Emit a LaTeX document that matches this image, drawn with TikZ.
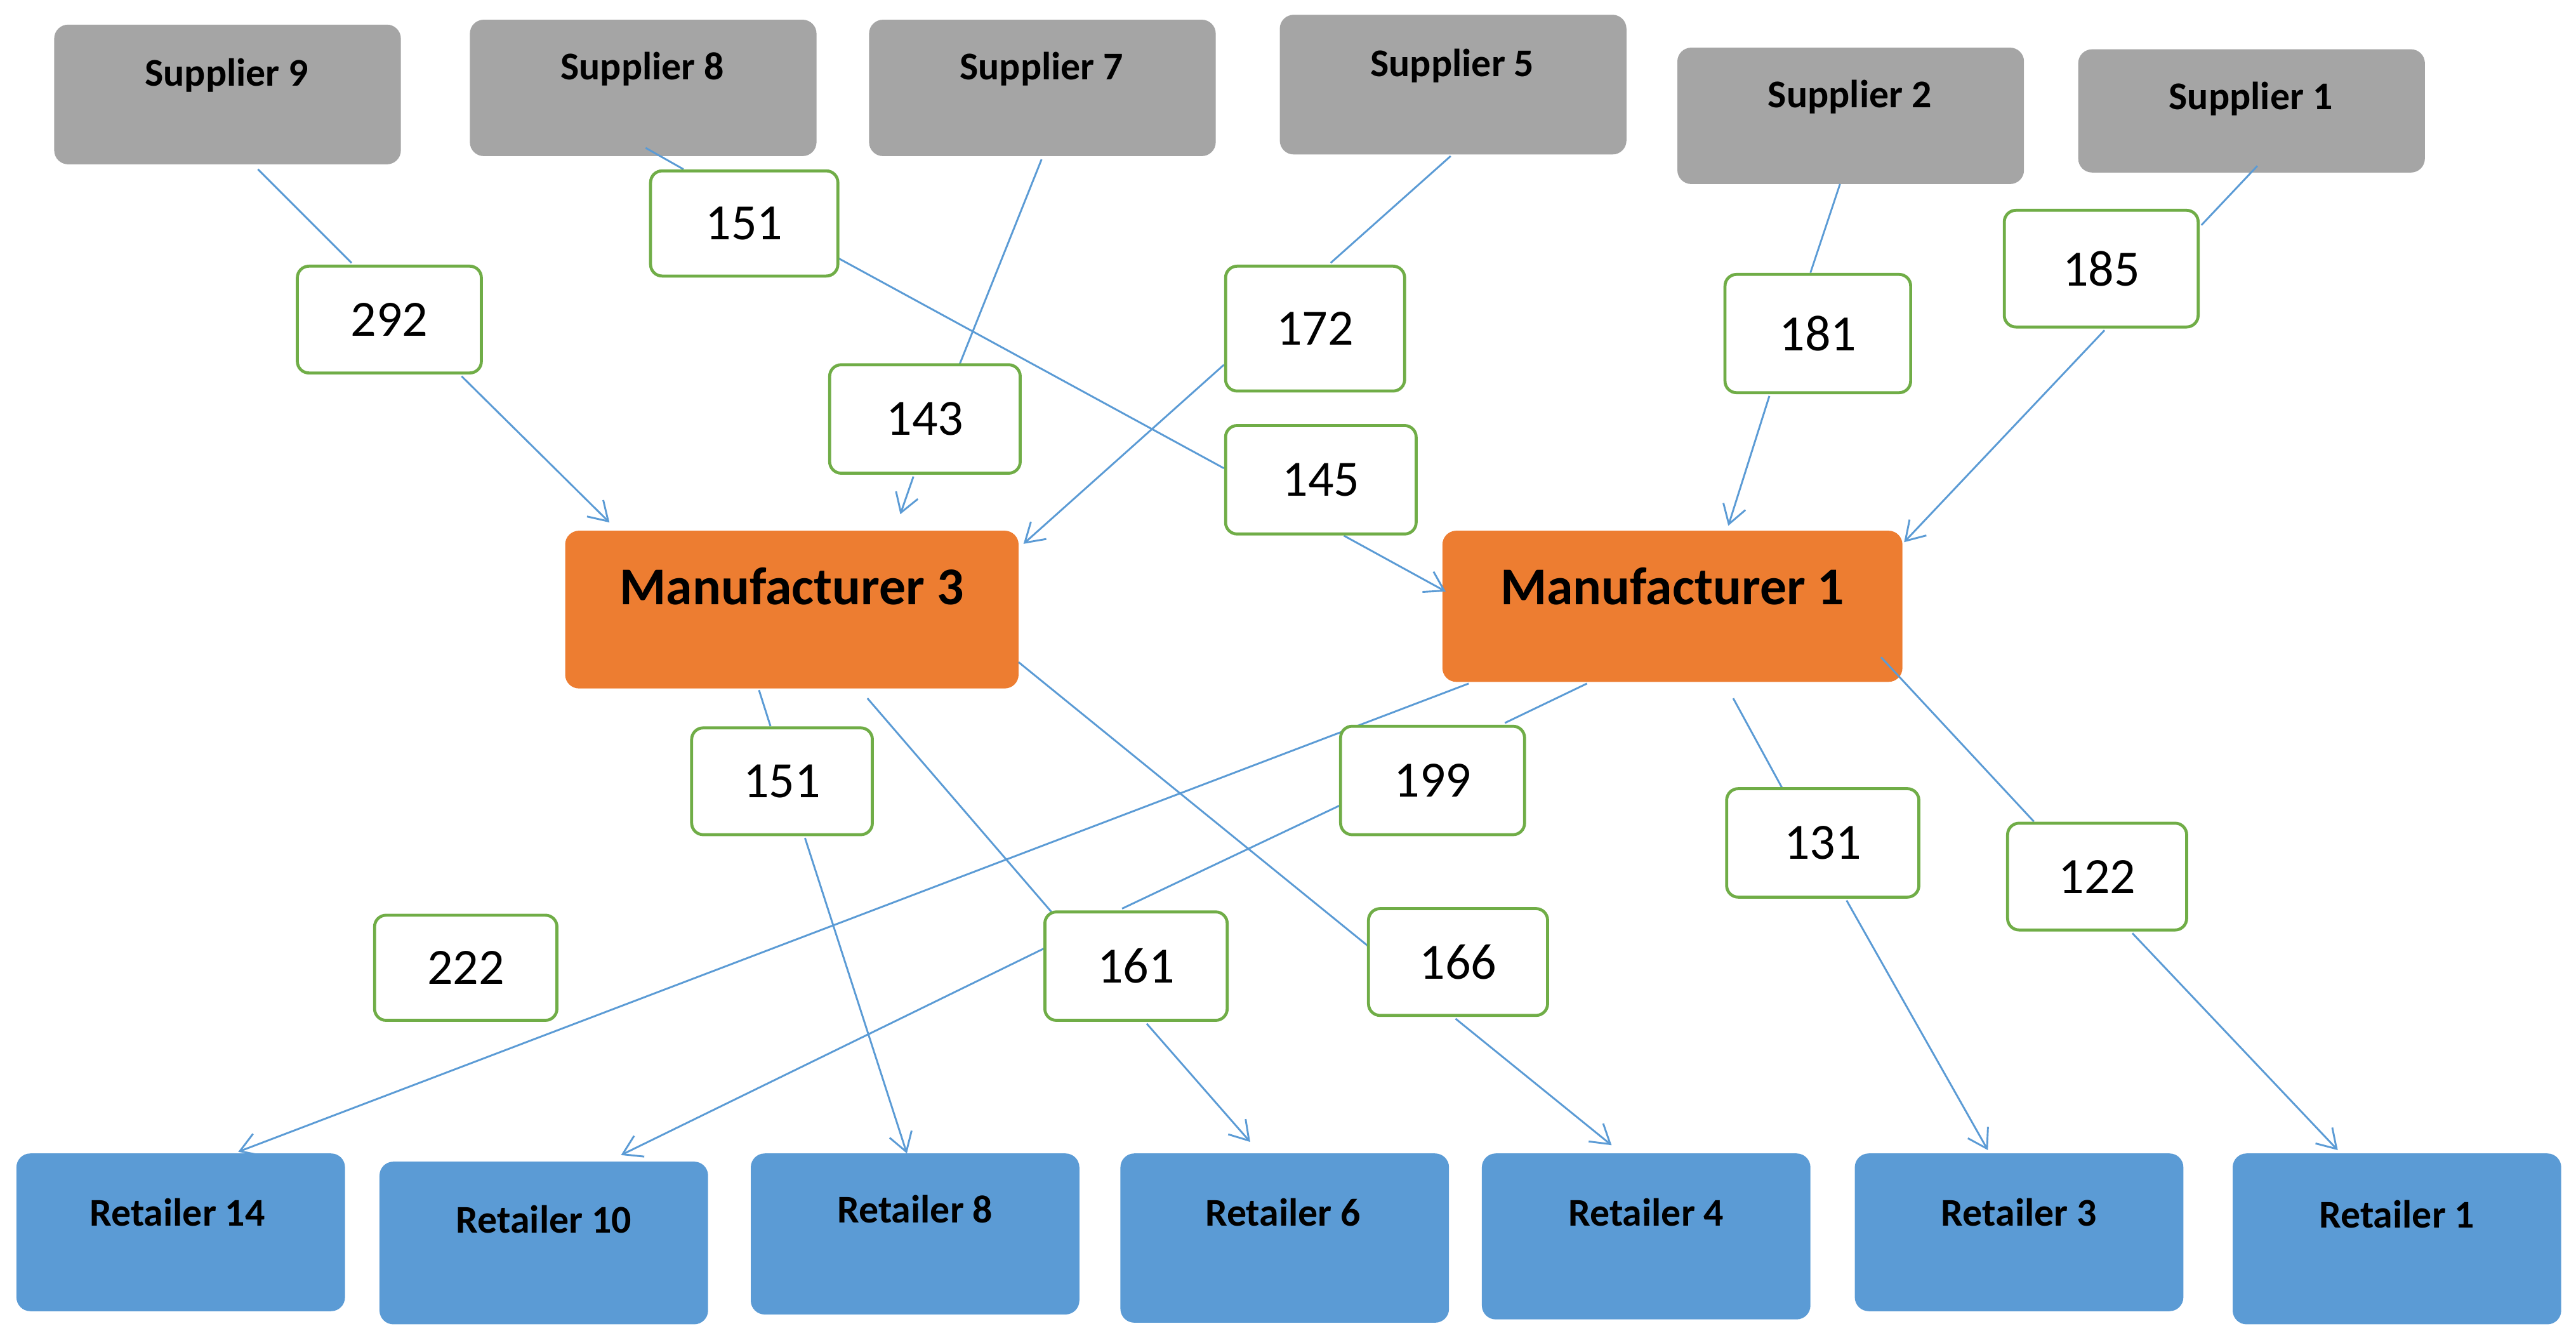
\documentclass[tikz,border=0pt]{standalone}
\usepackage{fontspec}
\setmainfont{Carlito}
\usetikzlibrary{arrows.meta}
\newlength\pu\setlength{\pu}{0.025cm}
\definecolor{sgray}{HTML}{A5A5A5}
\definecolor{morange}{HTML}{ED7D31}
\definecolor{rblue}{HTML}{5B9BD5}
\definecolor{lgreen}{HTML}{70AD47}
\definecolor{ln}{HTML}{5B9BD5}
\tikzset{
 box/.style={rounded corners=6pt,draw=none,inner sep=0pt},
 sup/.style={box,fill=sgray},
 man/.style={box,fill=morange},
 ret/.style={box,fill=rblue},
 bt/.style={font=\fontsize{17}{20}\selectfont\bfseries,inner sep=0pt},
 mt/.style={font=\fontsize{23}{26}\selectfont\bfseries,inner sep=0pt},
 lab/.style={draw=lgreen,line width=1.3pt,fill=white,rounded corners=5pt,inner sep=0pt,font=\fontsize{22}{26}\selectfont},
 con/.style={draw=ln,line width=0.8pt},
 arr/.style={con,-{Straight Barb[length=8pt,width=10pt]}},
}
\newcommand\bx[6]{\node[#1,minimum width={(#4-#3)*\pu},minimum height={(#6-#5)*\pu}] (#2) at ({(#3+#4)/2},{(#5+#6)/2}) {};}
\newcommand\lb[6]{\node[lab,minimum width={(#4-#3)*\pu},minimum height={(#6-#5)*\pu}] (#1) at ({(#3+#4)/2},{(#5+#6)/2}) {#2};}
\begin{document}
\begin{tikzpicture}[x=0.025cm,y=-0.025cm]
\useasboundingbox (0,0) rectangle (1568,814);
% suppliers
\bx{sup}{s9}{33}{244}{15}{100} \node[bt] (s9t) at (138,46) {Supplier 9};
\bx{sup}{s8}{286}{497}{12}{95} \node[bt] (s8t) at (391,42) {Supplier 8};
\bx{sup}{s7}{529}{740}{12}{95} \node[bt] (s7t) at (634,42) {Supplier 7};
\bx{sup}{s5}{779}{990}{9}{94} \node[bt] (s5t) at (884,40) {Supplier 5};
\bx{sup}{s2}{1021}{1232}{29}{112} \node[bt] (s2t) at (1126,59) {Supplier 2};
\bx{sup}{s1}{1265}{1476}{30}{105} \node[bt] (s1t) at (1370,60) {Supplier 1};
% manufacturers
\bx{man}{m3}{344}{620}{323}{419} \node[mt] (m3t) at (482,357) {Manufacturer 3};
\bx{man}{m1}{878}{1158}{323}{415} \node[mt] (m1t) at (1018,357) {Manufacturer 1};
% retailers
\bx{ret}{r14}{10}{210}{702}{798} \node[bt] (r14t) at (108,738) {Retailer 14};
\bx{ret}{r10}{231}{431}{707}{806} \node[bt] (r10t) at (331,742) {Retailer 10};
\bx{ret}{r8}{457}{657}{702}{800} \node[bt] (r8t) at (557,736) {Retailer 8};
\bx{ret}{r6}{682}{882}{702}{805} \node[bt] (r6t) at (781,738) {Retailer 6};
\bx{ret}{r4}{902}{1102}{702}{803} \node[bt] (r4t) at (1002,738) {Retailer 4};
\bx{ret}{r3}{1129}{1329}{702}{798} \node[bt] (r3t) at (1229,738) {Retailer 3};
\bx{ret}{r1}{1359}{1559}{702}{806} \node[bt] (r1t) at (1459,739) {Retailer 1};
% connectors (drawn before labels)
\begin{scope}[on background layer/.style={}]
\draw[con] (157,103) -- (214,160); \draw[arr] (281,229) -- (371,318);
\draw[con] (393,90) -- (416,103); \draw[con] (510,157) -- (745,285); \draw[arr] (818,326) -- (880,360);
\draw[con] (634,97) -- (584,222); \draw[arr] (556,290) -- (548,313);
\draw[con] (883,95) -- (810,160); \draw[arr] (745,222) -- (623,331);
\draw[con] (1120,112) -- (1102,166); \draw[arr] (1077,241) -- (1052,320);
\draw[con] (1374,101) -- (1340,137); \draw[arr] (1281,201) -- (1159,330);
\draw[con] (462,420) -- (469,442); \draw[arr] (490,510) -- (552,702);
\draw[con] (528,425) -- (640,555); \draw[arr] (698,623) -- (761,695);
\draw[con] (620,403) -- (833,576); \draw[arr] (886,620) -- (981,697);
\draw[arr] (894,416) -- (145,701);
\draw[con] (966,416) -- (916,440); \draw[con] (816,490) -- (683,553); \draw[arr] (636,577) -- (378,703);
\draw[con] (1055,425) -- (1085,480); \draw[arr] (1124,548) -- (1210,700);
\draw[con] (1145,400) -- (1238,500); \draw[arr] (1298,568) -- (1423,700);
\end{scope}
% labels
\lb{l292}{292}{181}{293}{162}{227}
\lb{l151a}{151}{396}{510}{104}{168}
\lb{l143}{143}{505}{621}{222}{288}
\lb{l172}{172}{746}{855}{162}{238}
\lb{l145}{145}{746}{862}{259}{325}
\lb{l181}{181}{1050}{1163}{167}{239}
\lb{l185}{185}{1220}{1338}{128}{199}
\lb{l151b}{151}{421}{531}{443}{508}
\lb{l199}{199}{816}{928}{442}{508}
\lb{l222}{222}{228}{339}{557}{621}
\lb{l161}{161}{636}{747}{555}{621}
\lb{l166}{166}{833}{942}{553}{618}
\lb{l131}{131}{1051}{1168}{480}{546}
\lb{l122}{122}{1222}{1331}{501}{566}
\end{tikzpicture}
\end{document}
